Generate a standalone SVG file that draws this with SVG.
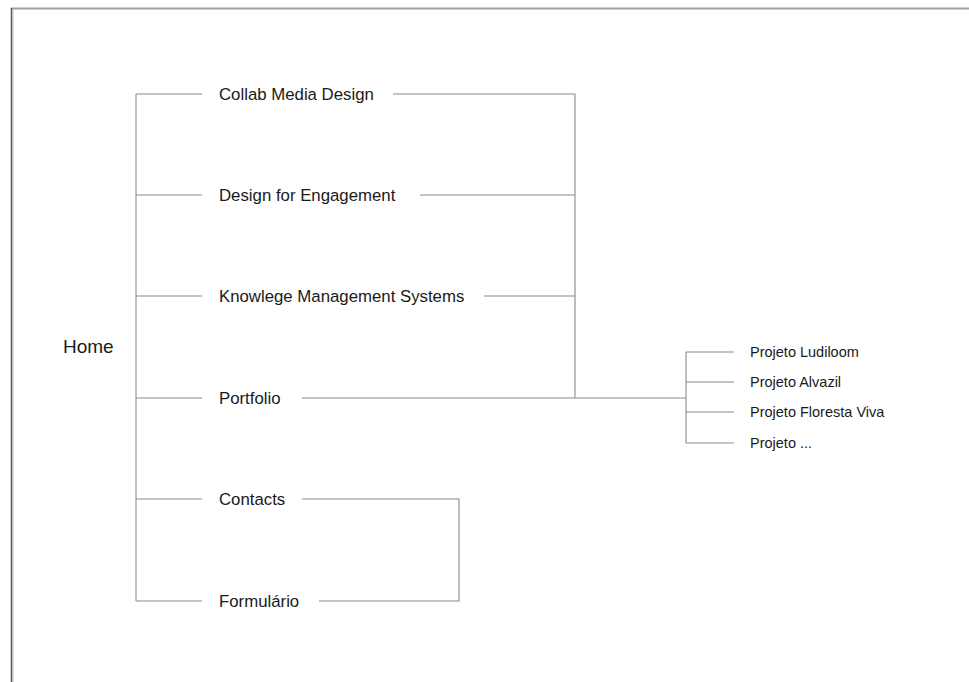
<svg xmlns="http://www.w3.org/2000/svg" width="969" height="682" viewBox="0 0 969 682">
<style>
.t{font-family:"Liberation Sans",Arial,sans-serif;fill:#1a1a1a}
.m{font-size:16.8px}
.s{font-size:14.5px}
.h{font-size:19px}
.c line,.c polyline{stroke:#8a8a8a;stroke-width:1.1;fill:none}
</style>
<rect x="0" y="0" width="969" height="682" fill="#fff"/>
<g id="frame">
<line x1="11" y1="8.5" x2="969" y2="8.5" stroke="#a0a0a0" stroke-width="2"/>
<line x1="11.5" y1="8" x2="11.5" y2="682" stroke="#555" stroke-width="1.5"/>
<line x1="13" y1="9" x2="13" y2="682" stroke="#bbb" stroke-width="1"/>
</g>
<g id="connectors" class="c">
<line x1="136" y1="94" x2="136" y2="601"/>
<line x1="136" y1="94" x2="202" y2="94"/>
<line x1="136" y1="195" x2="202" y2="195"/>
<line x1="136" y1="296" x2="202" y2="296"/>
<line x1="136" y1="398" x2="202" y2="398"/>
<line x1="136" y1="499" x2="202" y2="499"/>
<line x1="136" y1="601" x2="202" y2="601"/>
<polyline points="393,94 575,94 575,398"/>
<line x1="420" y1="195" x2="575" y2="195"/>
<line x1="484" y1="296" x2="575" y2="296"/>
<line x1="302" y1="398" x2="686" y2="398"/>
<line x1="686" y1="352" x2="686" y2="443"/>
<line x1="686" y1="352" x2="734" y2="352"/>
<line x1="686" y1="382" x2="734" y2="382"/>
<line x1="686" y1="412" x2="734" y2="412"/>
<line x1="686" y1="443" x2="734" y2="443"/>
<polyline points="302,499 459,499 459,601 319,601"/>
</g>
<g id="home"><text class="t h" x="63" y="353">Home</text></g>
<g id="collab"><text class="t m" x="219" y="100">Collab Media Design</text></g>
<g id="design"><text class="t m" x="219" y="201">Design for Engagement</text></g>
<g id="knowlege"><text class="t m" x="219" y="302">Knowlege Management Systems</text></g>
<g id="portfolio"><text class="t m" x="219" y="404">Portfolio</text></g>
<g id="contacts"><text class="t m" x="219" y="505">Contacts</text></g>
<g id="formulario"><text class="t m" x="219" y="607">Formulário</text></g>
<g id="ludiloom"><text class="t s" x="750" y="357">Projeto Ludiloom</text></g>
<g id="alvazil"><text class="t s" x="750" y="387">Projeto Alvazil</text></g>
<g id="floresta"><text class="t s" x="750" y="417">Projeto Floresta Viva</text></g>
<g id="etc"><text class="t s" x="750" y="448">Projeto ...</text></g>
</svg>
